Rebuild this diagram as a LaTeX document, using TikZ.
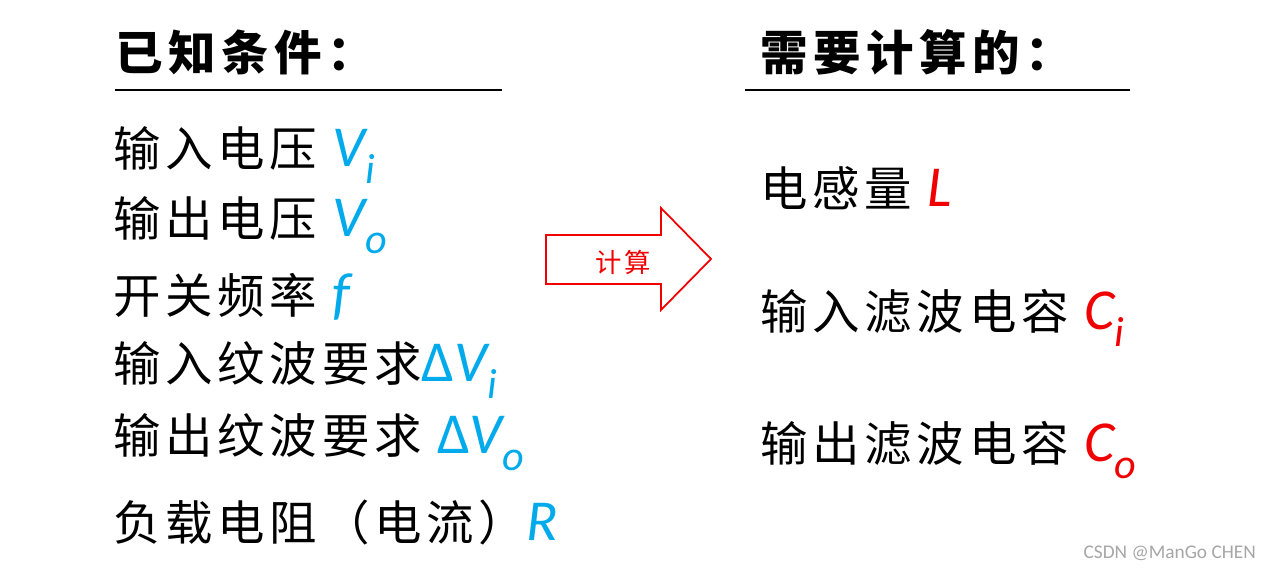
\documentclass[tikz,border=0pt]{standalone}
\usepackage{fontspec}
\newfontfamily\cjk{Noto Sans CJK SC}[LetterSpace=10]
\newfontfamily\cjkb{Noto Sans CJK SC}[LetterSpace=12]
\newfontfamily\mth{Carlito}
\definecolor{vblue}{RGB}{0,170,235}
\definecolor{vred}{RGB}{240,0,0}
\newcommand{\vv}[2]{{\mth\fontsize{33}{33}\selectfont\itshape #1\raisebox{-0.3em}{\fontsize{24}{24}\selectfont #2}}}
\newcommand{\mm}[1]{{\mth\fontsize{33}{33}\selectfont #1}}
\tikzset{
  item/.style={anchor=west,inner sep=0pt,font=\cjk\fontsize{27}{30}\selectfont},
  head/.style={anchor=west,inner sep=0pt,font=\cjkb\bfseries\fontsize{27}{30}\selectfont},
  rule/.style={line width=1pt},
}
\begin{document}
\begin{tikzpicture}[x=0.02cm,y=-0.02cm]
\useasboundingbox (0,0) rectangle (1275,570);
\node[head] (h1) at (115,52) {已知条件：};
\node[head] (h2) at (760,52) {需要计算的：};
\coordinate (u1a) at (115,90); \coordinate (u1b) at (502,90);
\coordinate (u2a) at (745,90); \coordinate (u2b) at (1130,90);
\draw[rule] (u1a) -- (u1b);
\draw[rule] (u2a) -- (u2b);
\node[item] (a1) at (113,155) {输入电压 \textcolor{vblue}{\vv{V}{i}}};
\node[item] (a2) at (113,225) {输出电压 \textcolor{vblue}{\vv{V}{o}}};
\node[item] (a3) at (113,297) {开关频率 \textcolor{vblue}{\mm{\itshape f}}};
\node[item] (a4) at (113,370) {输入纹波要求\textcolor{vblue}{\mm{Δ}\vv{V}{i}}};
\node[item] (a5) at (113,442) {输出纹波要求 \textcolor{vblue}{\mm{Δ}\vv{V}{o}}};
\node[item] (a6) at (113,522) {负载电阻（电流）\textcolor{vblue}{\mm{\itshape R}}};
\node[item] (b1) at (760,188) {电感量 \textcolor{vred}{\mm{\itshape L}}};
\node[item] (b2) at (760,318) {输入滤波电容 \textcolor{vred}{\vv{C}{i}}};
\node[item] (b3) at (760,450) {输出滤波电容 \textcolor{vred}{\vv{C}{o}}};
\draw[vred,line width=1pt,line join=miter] (546,235) -- (661,235) -- (661,208) -- (711,259)
  -- (661,310) -- (661,284) -- (546,284) -- cycle;
\node[text=vred,font=\cjk\fontsize{15}{15}\selectfont] (t) at (623,262) {计算};
\node[anchor=east,text=gray!70,font=\mth\fontsize{11}{11}\selectfont] (wm) at (1262,553) {CSDN @ManGo CHEN};
\end{tikzpicture}
\end{document}
